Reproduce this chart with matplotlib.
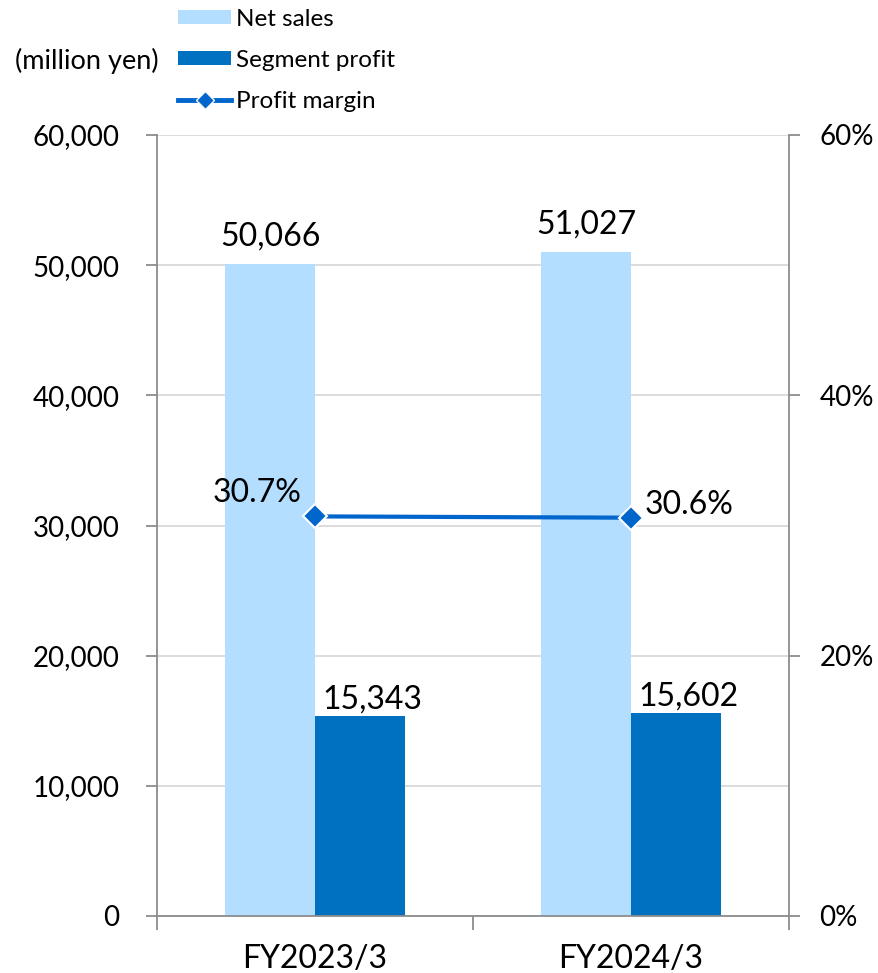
import matplotlib
matplotlib.use("Agg")
import matplotlib.pyplot as plt
from matplotlib.lines import Line2D
from matplotlib.patches import Patch

plt.rcParams['font.family'] = ['Lato', 'DejaVu Sans']

# Data
categories = ["FY2023/3", "FY2024/3"]
net_sales = [50066, 51027]
segment_profit = [15343, 15602]
profit_margin = [30.7, 30.6]
net_sales_labels = ["50,066", "51,027"]
profit_labels = ["15,343", "15,602"]
margin_labels = ["30.7%", "30.6%"]
y_ticks = [0, 10000, 20000, 30000, 40000, 50000, 60000]
y2_ticks = [0, 20, 40, 60]

light_blue = "#B3DEFF"
dark_blue = "#0070C0"
line_blue = "#0066CC"
spine_gray = "#8C8C8C"
grid_gray = "#D9D9D9"

W, H = 879, 973
fig = plt.figure(figsize=(W / 100, H / 100), dpi=100)
ax = fig.add_axes([157 / W, (H - 916) / H, 632 / W, 781 / H])
ax2 = ax.twinx()

x = list(range(len(categories)))
bw = 0.285
xs_l = [i - bw / 2 for i in x]
xs_r = [i + bw / 2 for i in x]

ax.bar(xs_l, net_sales, width=bw, color=light_blue, zorder=2)
ax.bar(xs_r, segment_profit, width=bw, color=dark_blue, zorder=2)

ax.set_xlim(-0.5, 1.5)
ax.set_ylim(0, 60000)
ax.set_yticks(y_ticks)
ax.set_yticklabels([f"{v:,}" for v in y_ticks], fontsize=20)
ax.yaxis.grid(True, color=grid_gray, linewidth=1.3, zorder=0)
ax.set_axisbelow(True)

# category ticks sit on the boundaries, labels in the middle
ax.set_xticks([-0.5, 0.5, 1.5])
ax.set_xticklabels([])
ax.set_xticks(x, minor=True)
ax.set_xticklabels(categories, minor=True, fontsize=23)
ax.tick_params(axis='x', which='major', length=10, width=1.3, color=spine_gray, direction='out')
ax.tick_params(axis='x', which='minor', length=0, pad=20)
ax.tick_params(axis='y', length=8, width=1.3, color=spine_gray, pad=19)

for side in ["top", "right"]:
    ax.spines[side].set_visible(False)
for side in ["left", "bottom"]:
    ax.spines[side].set_color(spine_gray)
    ax.spines[side].set_linewidth(1.3)

ax2.set_ylim(0, 60)
ax2.set_yticks(y2_ticks)
ax2.set_yticklabels([f"{v}%" for v in y2_ticks], fontsize=20)
ax2.tick_params(axis='y', length=8, width=1.3, color=spine_gray, pad=14)
for side in ["top", "left", "bottom"]:
    ax2.spines[side].set_visible(False)
ax2.spines["right"].set_color(spine_gray)
ax2.spines["right"].set_linewidth(1.3)

ax2.plot(x, profit_margin, color=line_blue, linewidth=3, marker='D', markersize=12,
         markerfacecolor=line_blue, markeredgecolor='white', markeredgewidth=1.5, zorder=5)

# value labels
for xi, v, s in zip(xs_l, net_sales, net_sales_labels):
    ax.annotate(s, (xi, v), xytext=(0, 9), textcoords='offset points',
                ha='center', va='bottom', fontsize=23)
for xi, v, s in zip(xs_r, segment_profit, profit_labels):
    ax.annotate(s, (xi, v), xytext=(9, 1), textcoords='offset points',
                ha='center', va='bottom', fontsize=23)
ax2.annotate(margin_labels[0], (x[0], profit_margin[0]), xytext=(-10, 6),
             textcoords='offset points', ha='right', va='bottom', fontsize=23)
ax2.annotate(margin_labels[1], (x[1], profit_margin[1]), xytext=(10, -2),
             textcoords='offset points', ha='left', va='bottom', fontsize=23)

# legend
handles = [
    Patch(facecolor=light_blue, edgecolor='none'),
    Patch(facecolor=dark_blue, edgecolor='none'),
    Line2D([0], [0], color=line_blue, linewidth=3.5, marker='D', markersize=9,
           markerfacecolor=line_blue, markeredgecolor='white', markeredgewidth=1),
]
fig.legend(handles, ["Net sales", "Segment profit", "Profit margin"],
           loc='upper left', bbox_to_anchor=(173 / W, 1 - 4 / H), frameon=False,
           fontsize=17.5, handlelength=2.2, handleheight=0.5, handletextpad=0.2,
           labelspacing=0.82, borderaxespad=0, borderpad=0.2)

fig.text(15 / W, 1 - 61 / H, "(million yen)", fontsize=19.5, ha='left', va='center')

fig.savefig("out.png", dpi=100)
